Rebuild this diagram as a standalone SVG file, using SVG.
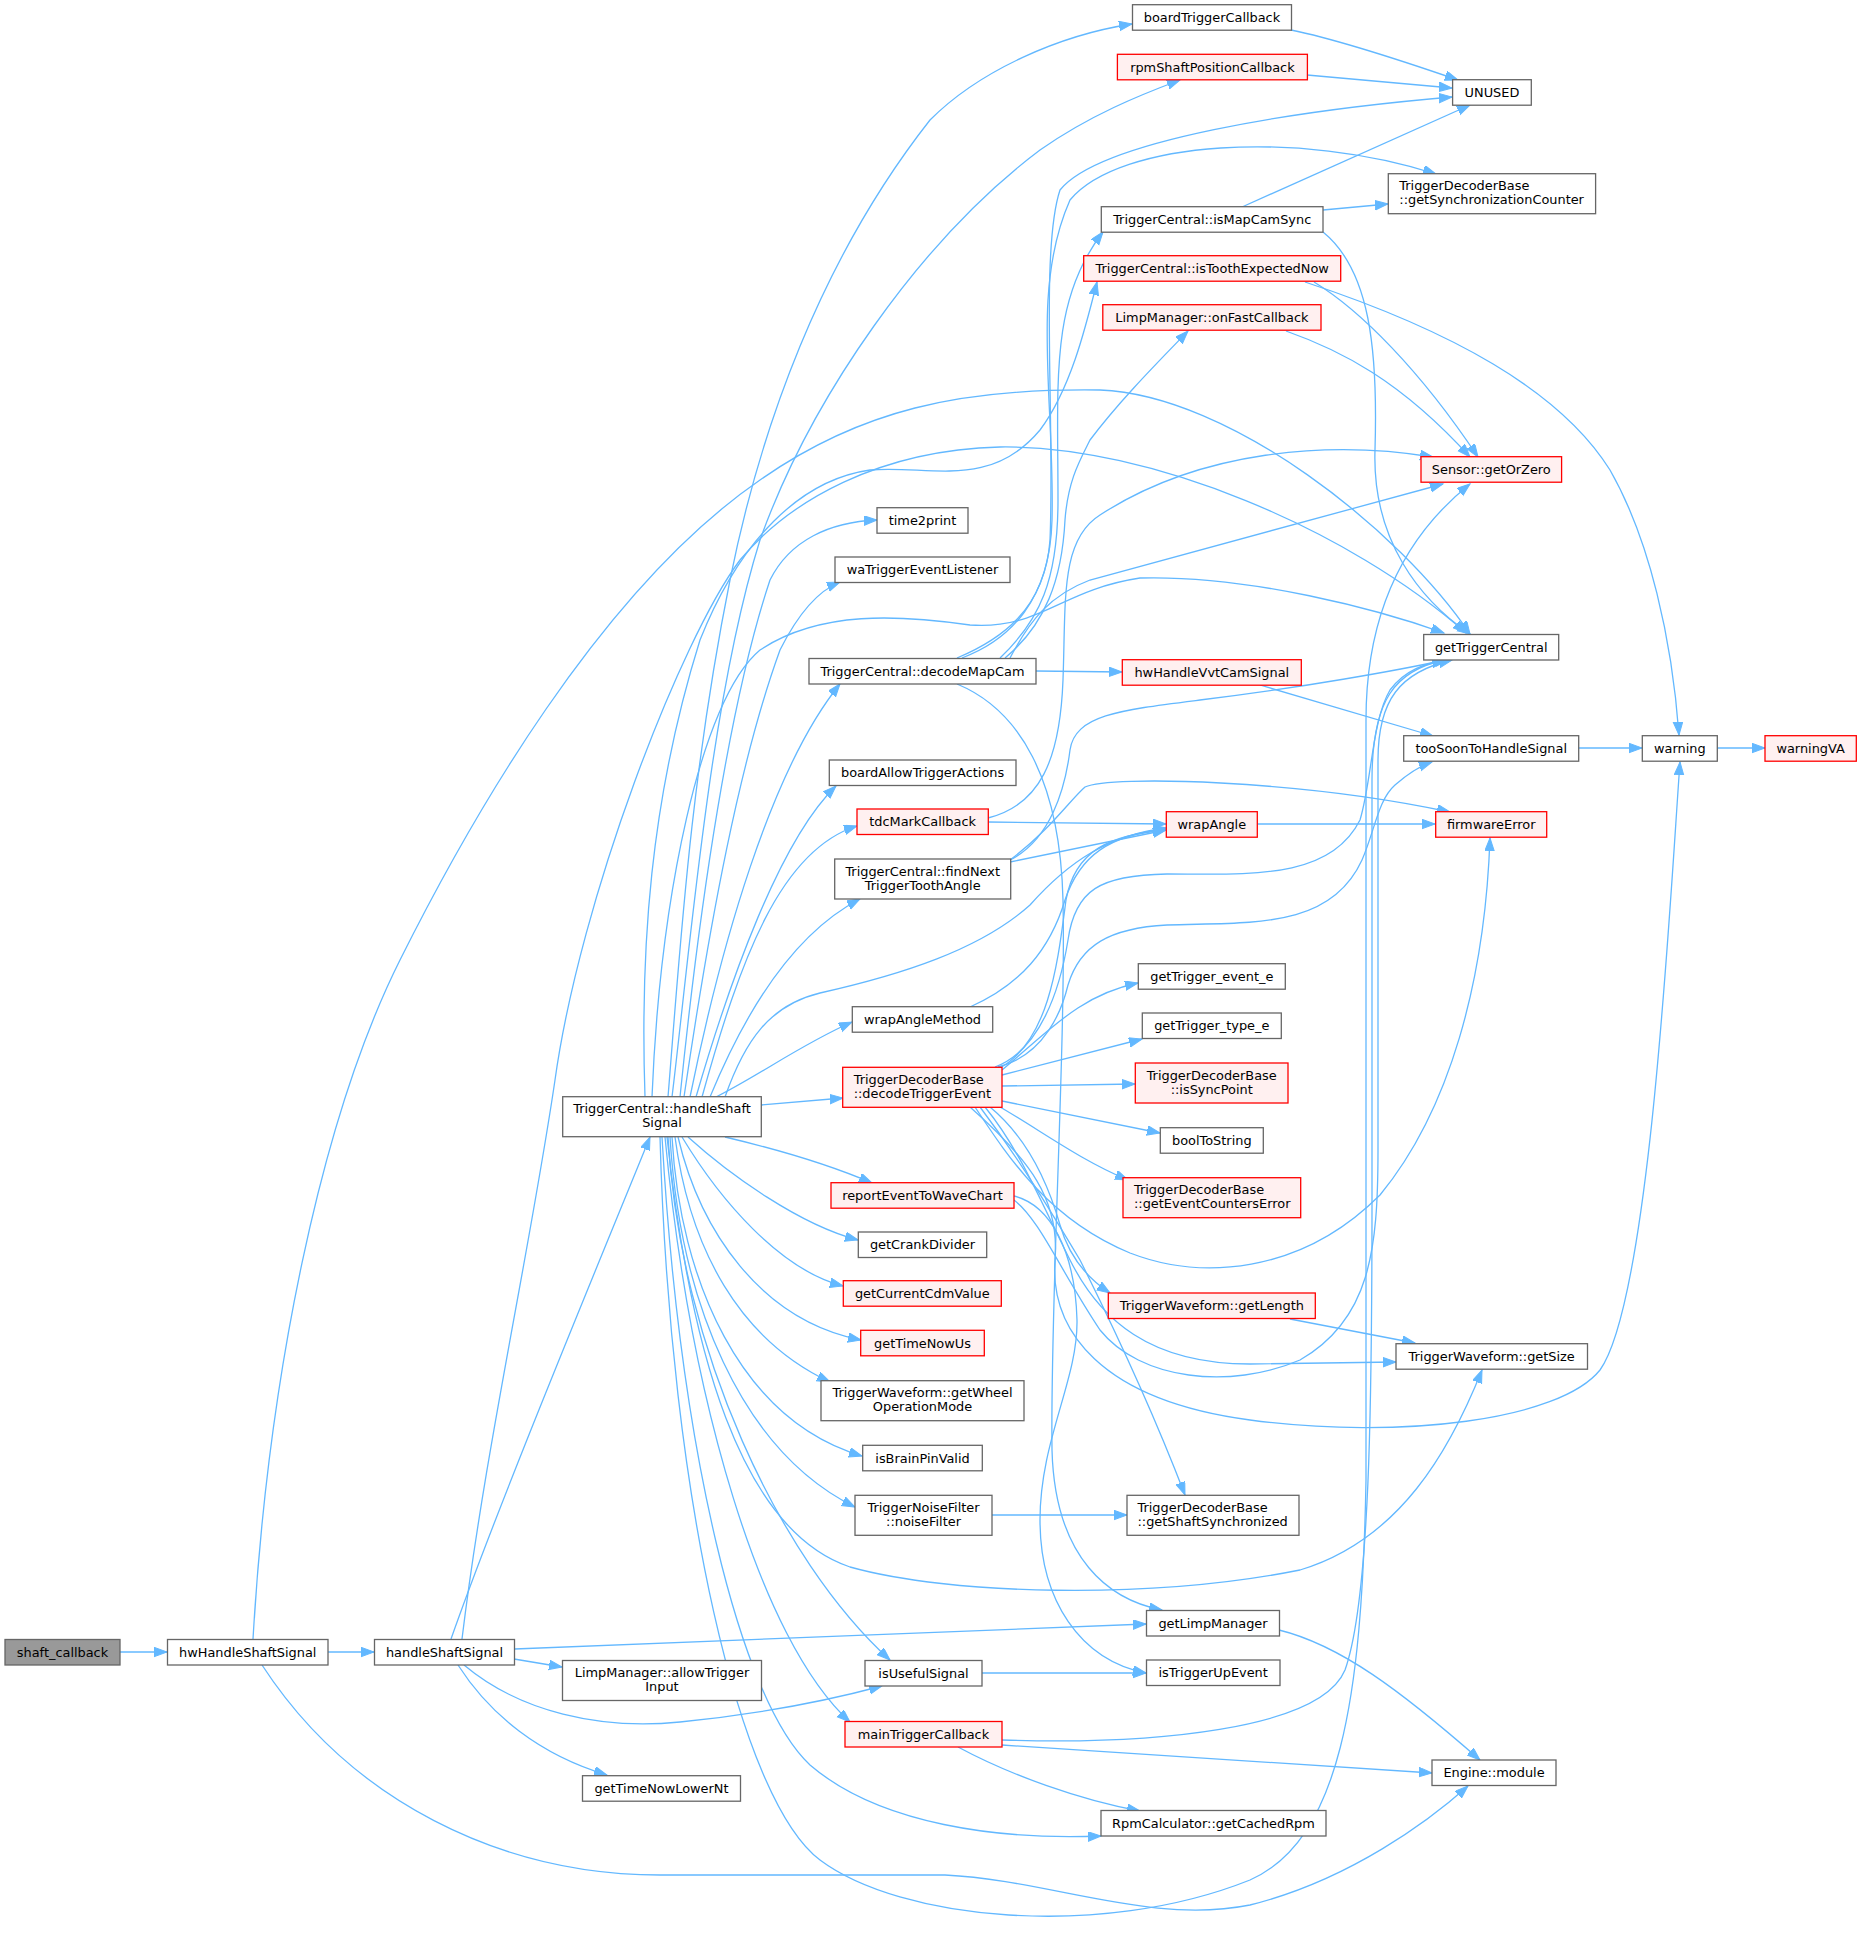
<svg xmlns="http://www.w3.org/2000/svg" width="1861" height="1933" viewBox="0 0 1861 1933">
<style>
.nd rect{fill:#ffffff;stroke:#666666;stroke-width:1.3}
.rd rect{fill:#fff0f0;stroke:#ff0000;stroke-width:1.3}
.gd rect{fill:#999999;stroke:#666666;stroke-width:1.3}
text{font-family:"DejaVu Sans","Liberation Sans",sans-serif;font-size:12.9px;fill:#000000}
.c{text-anchor:middle}
.l{text-anchor:start}
#edges path{fill:none;stroke:#63b8ff;stroke-width:1.3;marker-end:url(#ah)}
</style>
<defs>
<marker id="ah" markerUnits="userSpaceOnUse" markerWidth="16" markerHeight="12" refX="13" refY="4.75" orient="auto">
<path d="M0,0 L13,4.75 L0,9.5 z" fill="#63b8ff" stroke="#63b8ff" stroke-width="1"/>
</marker>
</defs>
<rect x="0" y="0" width="1861" height="1933" fill="#ffffff"/>
<g id="edges">
<path d="M120,1652 H167"/>
<path d="M328,1652 H374"/>
<path d="M451,1639 C500,1500 600,1260 650,1137"/>
<path d="M514,1659 L562,1667"/>
<path d="M458,1665 C490,1715 540,1755 607,1775"/>
<path d="M464,1665 C520,1712 600,1730 680,1722 C760,1714 830,1700 882,1686"/>
<path d="M514.5,1649 L1146,1624"/>
<path d="M253,1639 C268,1380 320,1120 400,960 C470,820 600,590 760,480 C860,410 960,388 1100,390 C1230,395 1400,530 1470,634"/>
<path d="M262,1665 C350,1800 500,1875 660,1875 L945,1875 C1050,1880 1150,1925 1250,1905 C1350,1880 1430,1820 1468,1786"/>
<path d="M462,1639 C485,1450 530,1250 555,1080 C580,900 680,640 740,560 C790,500 880,450 1000,447 C1150,445 1350,530 1466,633"/>
<path d="M645,1097 C640,950 650,800 700,640 C740,540 800,480 870,470 C930,465 990,490 1040,430 C1070,390 1085,330 1097,282"/>
<path d="M668,1097 C680,950 690,780 730,580 C760,430 820,260 930,120 C980,70 1060,35 1132,24"/>
<path d="M672,1097 C690,950 710,700 760,540 C810,400 920,240 1040,150 C1090,115 1140,95 1180,80"/>
<path d="M652,1097 C660,900 700,700 760,650 C820,610 900,615 970,625 C1040,630 1060,590 1140,578 C1250,575 1380,610 1444,633"/>
<path d="M680,1097 C700,900 730,700 770,580 C790,540 830,522 877,520"/>
<path d="M684,1097 C710,920 740,760 780,650 C800,610 820,590 840,582"/>
<path d="M690,1097 C720,950 770,770 840,684"/>
<path d="M696,1097 C730,980 780,840 836,786"/>
<path d="M702,1097 C740,960 780,850 857,826"/>
<path d="M710,1097 C750,1000 800,930 860,899"/>
<path d="M716,1097 C760,1075 800,1045 852,1022"/>
<path d="M761,1105 L843,1098"/>
<path d="M725,1097 C745,1040 770,1005 820,993 C900,975 980,950 1030,905 C1070,860 1110,835 1166,828"/>
<path d="M725,1137 C780,1150 830,1165 872,1183"/>
<path d="M688,1137 C730,1175 800,1225 858,1240"/>
<path d="M682,1137 C720,1200 780,1270 843,1286"/>
<path d="M678,1137 C700,1230 760,1320 861,1340"/>
<path d="M675,1137 C690,1250 740,1340 830,1382"/>
<path d="M672,1137 C680,1280 740,1420 862,1456"/>
<path d="M670,1137 C680,1300 740,1450 855,1507"/>
<path d="M668,1137 C680,1350 780,1560 890,1660"/>
<path d="M665,1137 C690,1400 760,1640 850,1722"/>
<path d="M662,1137 C680,1450 740,1700 810,1765 C880,1825 1000,1840 1101,1836"/>
<path d="M667,1137 C690,1350 740,1530 850,1567 C950,1595 1150,1600 1300,1570 C1400,1540 1450,1450 1482,1370"/>
<path d="M660,1137 C670,1500 740,1800 820,1860 C900,1920 1100,1940 1250,1880 C1340,1840 1362,1700 1366,1480 L1366,720 C1366,620 1400,540 1470,484"/>
<path d="M1036,671 L1122,672"/>
<path d="M957,658 C1000,640 1045,610 1050,540 C1055,420 1040,250 1060,190 C1100,140 1300,110 1452,97"/>
<path d="M962,658 C1010,640 1050,600 1052,520 C1055,400 1030,290 1070,200 C1120,140 1300,130 1436,174"/>
<path d="M1000,658 C1040,620 1058,580 1058,500 C1058,380 1050,300 1103,232"/>
<path d="M1005,658 C1045,625 1062,580 1065,520 C1068,480 1080,460 1090,440 C1120,400 1160,360 1188,331"/>
<path d="M1010,658 C1030,620 1050,595 1090,580 L1443,484"/>
<path d="M957,684 C1020,710 1060,780 1063,900 C1066,1050 1050,1300 1052,1450 C1055,1560 1110,1600 1162,1610"/>
<path d="M988,822 L1166,824"/>
<path d="M988,818 C1040,805 1060,760 1063,680 C1066,600 1060,540 1100,515 C1200,450 1330,440 1433,457"/>
<path d="M1010,862 L1166,830"/>
<path d="M1010,860 C1050,840 1065,790 1070,750 C1075,715 1120,710 1200,700 C1300,688 1400,670 1445,660"/>
<path d="M1010,860 C1050,830 1070,800 1085,787 C1110,775 1300,780 1450,812"/>
<path d="M970,1007 C1020,985 1050,950 1065,900 C1080,855 1110,835 1166,829"/>
<path d="M1257,824 L1435,824"/>
<path d="M1002,1070 C1050,1030 1080,995 1138,983"/>
<path d="M1002,1075 L1142,1039"/>
<path d="M1002,1086 L1135,1084"/>
<path d="M1002,1101 L1160,1133"/>
<path d="M1000,1107 C1040,1130 1080,1160 1128,1180"/>
<path d="M1000,1068 C1050,1040 1058,960 1066,900 C1075,850 1110,835 1166,830"/>
<path d="M995,1067 C1040,1050 1060,990 1068,940 C1075,890 1100,875 1167,874 C1250,874 1330,880 1360,820 C1372,780 1372,720 1390,690 C1405,670 1425,663 1448,660"/>
<path d="M998,1067 C1045,1055 1062,1010 1068,985 C1080,945 1110,928 1167,925 C1250,922 1330,930 1362,860 C1375,830 1378,800 1395,785 C1410,772 1420,766 1432,762"/>
<path d="M990,1107 C1030,1140 1050,1190 1060,1225 C1070,1260 1090,1280 1110,1293"/>
<path d="M985,1107 C1020,1150 1040,1200 1070,1260 C1100,1320 1150,1364 1250,1364 L1396,1362"/>
<path d="M980,1107 C1020,1160 1050,1210 1080,1260 C1120,1340 1160,1430 1185,1495"/>
<path d="M975,1107 C1010,1160 1050,1220 1130,1253 C1200,1280 1300,1275 1380,1195 C1450,1110 1485,980 1490,838"/>
<path d="M970,1107 C1030,1160 1060,1200 1055,1260 C1050,1330 1100,1400 1250,1420 C1400,1440 1560,1420 1600,1370 C1650,1300 1670,900 1680,762"/>
<path d="M1014,1196 C1050,1205 1075,1250 1077,1320 C1078,1380 1040,1440 1040,1520 C1040,1600 1080,1660 1146,1673"/>
<path d="M1014,1200 C1040,1220 1060,1270 1100,1330 C1140,1380 1230,1390 1300,1360 C1370,1320 1378,1250 1378,1150 L1378,760 C1378,700 1400,672 1452,660"/>
<path d="M1002,1740 C1150,1745 1320,1730 1345,1670 C1370,1600 1372,1400 1372,1200 L1372,780 C1372,700 1395,670 1445,660"/>
<path d="M1002,1745 L1432,1773"/>
<path d="M958,1747 C1010,1775 1080,1800 1140,1811"/>
<path d="M1279,1630 C1340,1645 1400,1690 1480,1760"/>
<path d="M982,1673 L1146,1673"/>
<path d="M992,1515 L1127,1515"/>
<path d="M1290,1319 L1415,1343"/>
<path d="M1260,685 L1433,736"/>
<path d="M1579,748 L1642,748"/>
<path d="M1717,748 L1765,748"/>
<path d="M1242,207 L1470,105"/>
<path d="M1323,210 L1388,204"/>
<path d="M1323,232 C1370,270 1378,350 1375,450 C1372,540 1420,600 1470,634"/>
<path d="M1291,30 C1340,40 1400,60 1458,80"/>
<path d="M1307,75 L1452,88"/>
<path d="M1314,282 C1360,310 1420,370 1478,457"/>
<path d="M1286,331 C1340,350 1400,380 1470,457"/>
<path d="M1305,282 C1450,330 1560,390 1610,470 C1650,540 1672,640 1679,735"/>
</g>
<g id="n_shaft_callback" class="gd"><rect x="5" y="1639.5" width="115" height="25.5"/><text class="c" x="62.5" y="1656.9">shaft_callback</text></g>
<g id="n_hwHandleShaftSignal" class="nd"><rect x="167.5" y="1639.5" width="160.5" height="25.5"/><text class="c" x="247.75" y="1656.9">hwHandleShaftSignal</text></g>
<g id="n_handleShaftSignal" class="nd"><rect x="374.5" y="1639.5" width="140" height="25.5"/><text class="c" x="444.5" y="1656.9">handleShaftSignal</text></g>
<g id="n_allowTriggerInput" class="nd"><rect x="562.5" y="1660.5" width="199" height="40"/><text class="c" x="662" y="1677">LimpManager::allowTrigger</text><text class="c" x="662" y="1691">Input</text></g>
<g id="n_getTimeNowLowerNt" class="nd"><rect x="582.5" y="1775.7" width="158" height="25.5"/><text class="c" x="661.5" y="1793.1">getTimeNowLowerNt</text></g>
<g id="n_TC_handleShaftSignal" class="nd"><rect x="562.7" y="1096.7" width="198.6" height="40"/><text class="c" x="662" y="1113.2">TriggerCentral::handleShaft</text><text class="c" x="662" y="1127.2">Signal</text></g>
<g id="n_boardTriggerCallback" class="nd"><rect x="1132.5" y="4.7" width="159" height="25.5"/><text class="c" x="1212" y="22.1">boardTriggerCallback</text></g>
<g id="n_rpmShaftPositionCallback" class="rd"><rect x="1117.4" y="54.3" width="190" height="25.5"/><text class="c" x="1212.4" y="71.7">rpmShaftPositionCallback</text></g>
<g id="n_UNUSED" class="nd"><rect x="1452.6" y="79.7" width="78.7" height="25.5"/><text class="c" x="1492" y="97.1">UNUSED</text></g>
<g id="n_getSynchronizationCounter" class="nd"><rect x="1388.3" y="173.7" width="207.3" height="40"/><text class="l" x="1399.3" y="190.2">TriggerDecoderBase</text><text class="l" x="1399.3" y="204.2">::getSynchronizationCounter</text></g>
<g id="n_isMapCamSync" class="nd"><rect x="1101.3" y="206.7" width="221.7" height="25.5"/><text class="c" x="1212.2" y="224.1">TriggerCentral::isMapCamSync</text></g>
<g id="n_isToothExpectedNow" class="rd"><rect x="1083.7" y="255.7" width="257" height="25.5"/><text class="c" x="1212.2" y="273.1">TriggerCentral::isToothExpectedNow</text></g>
<g id="n_onFastCallback" class="rd"><rect x="1102.8" y="304.7" width="218.2" height="25.5"/><text class="c" x="1211.9" y="322.1">LimpManager::onFastCallback</text></g>
<g id="n_Sensor_getOrZero" class="rd"><rect x="1421" y="456.7" width="140.6" height="25.5"/><text class="c" x="1491.3" y="474.1">Sensor::getOrZero</text></g>
<g id="n_time2print" class="nd"><rect x="877" y="507.7" width="91" height="25.5"/><text class="c" x="922.5" y="525.1">time2print</text></g>
<g id="n_waTriggerEventListener" class="nd"><rect x="835" y="557" width="175" height="25.5"/><text class="c" x="922.5" y="574.4">waTriggerEventListener</text></g>
<g id="n_getTriggerCentral" class="nd"><rect x="1423.7" y="634.5" width="135" height="25.5"/><text class="c" x="1491.2" y="651.9">getTriggerCentral</text></g>
<g id="n_decodeMapCam" class="nd"><rect x="809" y="658.5" width="227" height="25.5"/><text class="c" x="922.5" y="675.9">TriggerCentral::decodeMapCam</text></g>
<g id="n_hwHandleVvtCamSignal" class="rd"><rect x="1122.3" y="659.7" width="179" height="25.5"/><text class="c" x="1211.8" y="677.1">hwHandleVvtCamSignal</text></g>
<g id="n_tooSoonToHandleSignal" class="nd"><rect x="1403.7" y="735.7" width="175" height="25.5"/><text class="c" x="1491.2" y="753.1">tooSoonToHandleSignal</text></g>
<g id="n_warning" class="nd"><rect x="1642.3" y="735.7" width="75" height="25.5"/><text class="c" x="1679.8" y="753.1">warning</text></g>
<g id="n_warningVA" class="rd"><rect x="1765" y="735.7" width="91.3" height="25.5"/><text class="c" x="1810.6" y="753.1">warningVA</text></g>
<g id="n_boardAllowTriggerActions" class="nd"><rect x="829.3" y="760" width="186.7" height="25.5"/><text class="c" x="922.6" y="777.4">boardAllowTriggerActions</text></g>
<g id="n_tdcMarkCallback" class="rd"><rect x="857" y="809" width="131.3" height="25.5"/><text class="c" x="922.6" y="826.4">tdcMarkCallback</text></g>
<g id="n_wrapAngle" class="rd"><rect x="1166.3" y="811.7" width="91" height="25.5"/><text class="c" x="1211.8" y="829.1">wrapAngle</text></g>
<g id="n_firmwareError" class="rd"><rect x="1435.7" y="811.7" width="111" height="25.5"/><text class="c" x="1491.2" y="829.1">firmwareError</text></g>
<g id="n_findNextTriggerToothAngle" class="nd"><rect x="834.7" y="859" width="176" height="40"/><text class="c" x="922.7" y="875.5">TriggerCentral::findNext</text><text class="c" x="922.7" y="889.5">TriggerToothAngle</text></g>
<g id="n_getTrigger_event_e" class="nd"><rect x="1138.3" y="963.7" width="147" height="25.5"/><text class="c" x="1211.8" y="981.1">getTrigger_event_e</text></g>
<g id="n_wrapAngleMethod" class="nd"><rect x="852.3" y="1006.7" width="140.4" height="25.5"/><text class="c" x="922.5" y="1024.1">wrapAngleMethod</text></g>
<g id="n_getTrigger_type_e" class="nd"><rect x="1142.3" y="1013" width="139" height="25.5"/><text class="c" x="1211.8" y="1030.4">getTrigger_type_e</text></g>
<g id="n_decodeTriggerEvent" class="rd"><rect x="842.7" y="1067.3" width="159.3" height="40"/><text class="l" x="853.7" y="1083.8">TriggerDecoderBase</text><text class="l" x="853.7" y="1097.8">::decodeTriggerEvent</text></g>
<g id="n_isSyncPoint" class="rd"><rect x="1135.3" y="1063" width="152.7" height="40"/><text class="c" x="1211.7" y="1079.5">TriggerDecoderBase</text><text class="c" x="1211.7" y="1093.5">::isSyncPoint</text></g>
<g id="n_boolToString" class="nd"><rect x="1160.3" y="1127.7" width="103" height="25.5"/><text class="c" x="1211.8" y="1145.1">boolToString</text></g>
<g id="n_getEventCountersError" class="rd"><rect x="1123" y="1177.7" width="177.7" height="40"/><text class="l" x="1134" y="1194.2">TriggerDecoderBase</text><text class="l" x="1134" y="1208.2">::getEventCountersError</text></g>
<g id="n_reportEventToWaveChart" class="rd"><rect x="831" y="1182.7" width="183" height="25.5"/><text class="c" x="922.5" y="1200.1">reportEventToWaveChart</text></g>
<g id="n_getCrankDivider" class="nd"><rect x="858.3" y="1232" width="128.4" height="25.5"/><text class="c" x="922.5" y="1249.4">getCrankDivider</text></g>
<g id="n_getCurrentCdmValue" class="rd"><rect x="843.3" y="1280.7" width="158" height="25.5"/><text class="c" x="922.3" y="1298.1">getCurrentCdmValue</text></g>
<g id="n_getLength" class="rd"><rect x="1108.3" y="1293" width="207" height="25.5"/><text class="c" x="1211.8" y="1310.4">TriggerWaveform::getLength</text></g>
<g id="n_getTimeNowUs" class="rd"><rect x="860.7" y="1330.3" width="123.6" height="25.5"/><text class="c" x="922.5" y="1347.7">getTimeNowUs</text></g>
<g id="n_getSize" class="nd"><rect x="1396" y="1343.7" width="191.5" height="25.5"/><text class="c" x="1491.7" y="1361.1">TriggerWaveform::getSize</text></g>
<g id="n_getWheelOperationMode" class="nd"><rect x="821" y="1380.7" width="203" height="40"/><text class="c" x="922.5" y="1397.2">TriggerWaveform::getWheel</text><text class="c" x="922.5" y="1411.2">OperationMode</text></g>
<g id="n_isBrainPinValid" class="nd"><rect x="862.7" y="1445.3" width="119.6" height="25.5"/><text class="c" x="922.5" y="1462.7">isBrainPinValid</text></g>
<g id="n_noiseFilter" class="nd"><rect x="855" y="1495.3" width="137" height="40"/><text class="c" x="923.5" y="1511.8">TriggerNoiseFilter</text><text class="c" x="923.5" y="1525.8">::noiseFilter</text></g>
<g id="n_getShaftSynchronized" class="nd"><rect x="1127" y="1495.3" width="172" height="40"/><text class="l" x="1137.5" y="1511.8">TriggerDecoderBase</text><text class="l" x="1137.5" y="1525.8">::getShaftSynchronized</text></g>
<g id="n_getLimpManager" class="nd"><rect x="1146.5" y="1610.5" width="133" height="25.5"/><text class="c" x="1213" y="1627.9">getLimpManager</text></g>
<g id="n_isUsefulSignal" class="nd"><rect x="865" y="1660.5" width="117" height="25.5"/><text class="c" x="923.5" y="1677.9">isUsefulSignal</text></g>
<g id="n_isTriggerUpEvent" class="nd"><rect x="1146.5" y="1660" width="133.5" height="25.5"/><text class="c" x="1213.2" y="1677.4">isTriggerUpEvent</text></g>
<g id="n_mainTriggerCallback" class="rd"><rect x="845" y="1721.5" width="157" height="25.5"/><text class="c" x="923.5" y="1738.9">mainTriggerCallback</text></g>
<g id="n_Engine_module" class="nd"><rect x="1432" y="1760" width="124" height="25.5"/><text class="c" x="1494" y="1777.4">Engine::module</text></g>
<g id="n_getCachedRpm" class="nd"><rect x="1101" y="1810.5" width="225" height="25.5"/><text class="c" x="1213.5" y="1827.9">RpmCalculator::getCachedRpm</text></g>
</svg>
